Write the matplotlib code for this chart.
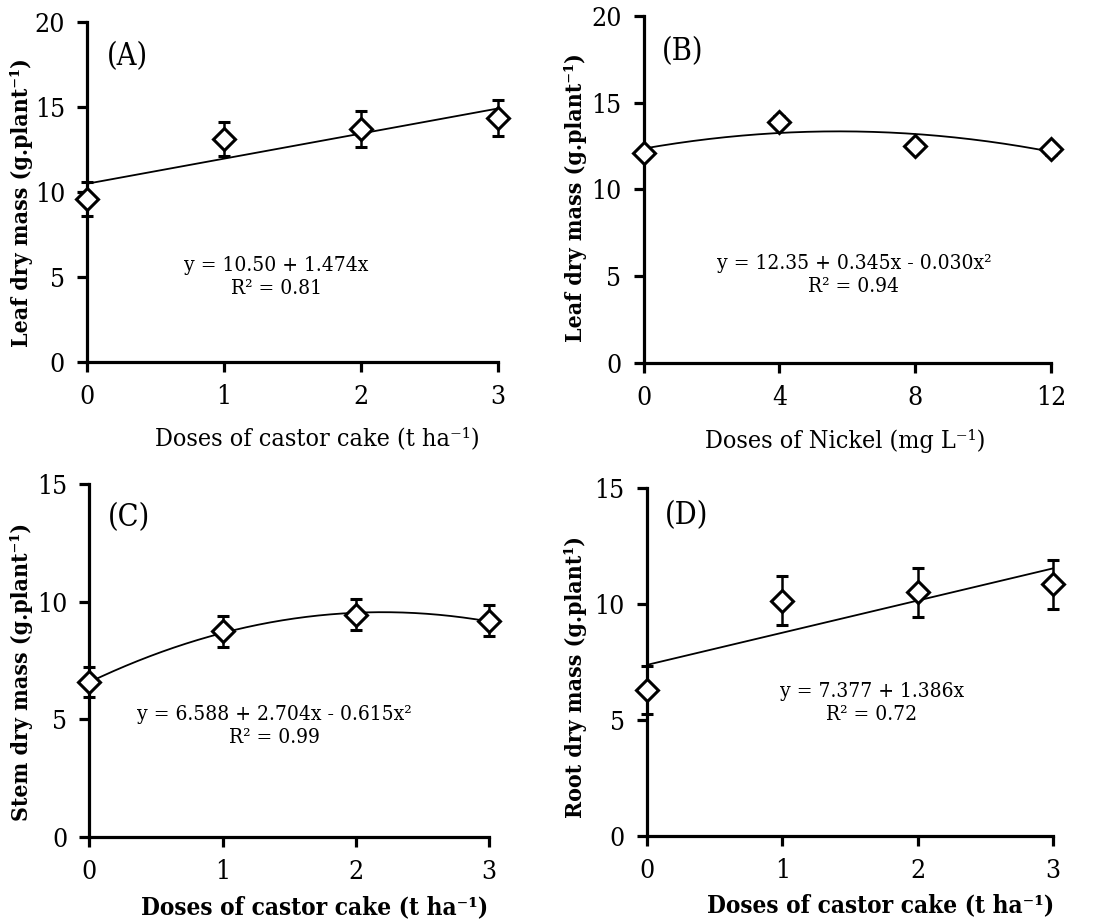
import numpy as np
import matplotlib
matplotlib.use("Agg")
import matplotlib.pyplot as plt

plt.rcParams['font.family'] = ['DejaVu Serif']
plt.rcParams['font.stretch'] = 'condensed'

# castor cake doses (t ha-1) and nickel doses (mg L-1)
castor = [0, 1, 2, 3]
nickel = [0, 4, 8, 12]

# means and error bar half-widths
leaf_castor = [9.6, 13.15, 13.7, 14.35]
leaf_castor_err = [1.0, 1.0, 1.05, 1.05]
leaf_nickel = [12.1, 13.9, 12.5, 12.3]
leaf_nickel_err = [0.3, 0.3, 0.3, 0.3]
stem_castor = [6.6, 8.75, 9.45, 9.2]
stem_castor_err = [0.65, 0.65, 0.65, 0.65]
root_castor = [6.3, 10.15, 10.5, 10.85]
root_castor_err = [1.05, 1.05, 1.05, 1.05]

# regression coefficients (c0, c1, c2)
fit_a = [10.50, 1.474, 0.0]
fit_b = [12.35, 0.345, -0.030]
fit_c = [6.588, 2.704, -0.615]
fit_d = [7.377, 1.386, 0.0]

panels = [
    dict(pos=[0.079, 0.608, 0.372, 0.368], x=castor, y=leaf_castor, e=leaf_castor_err,
         fit=fit_a, ylim=20, yticks=[0, 5, 10, 15, 20], tag='(A)', tagxy=(0.097, 0.90),
         ylabel='Leaf dry mass (g.plant⁻¹)', ylab_xy=(-0.133, 0.47),
         xlabel='Doses of castor cake (t ha⁻¹)', xbold=False, xlab_xy=(0.56, -0.19),
         eq=['y = 10.50 + 1.474x', 'R² = 0.81'], eqxy=(1.38, 5.0)),
    dict(pos=[0.583, 0.607, 0.369, 0.376], x=nickel, y=leaf_nickel, e=leaf_nickel_err,
         fit=fit_b, ylim=20, yticks=[0, 5, 10, 15, 20], tag='(B)', tagxy=(0.096, 0.896),
         ylabel='Leaf dry mass (g.plant⁻¹)', ylab_xy=(-0.14, 0.478),
         xlabel='Doses of Nickel (mg L⁻¹)', xbold=False, xlab_xy=(0.495, -0.19),
         eq=['y = 12.35 + 0.345x - 0.030x²', 'R² = 0.94'], eqxy=(6.19, 5.07)),
    dict(pos=[0.081, 0.094, 0.362, 0.382], x=castor, y=stem_castor, e=stem_castor_err,
         fit=fit_c, ylim=15, yticks=[0, 5, 10, 15], tag='(C)', tagxy=(0.10, 0.906),
         ylabel='Stem dry mass (g.plant⁻¹)', ylab_xy=(-0.142, 0.467),
         xlabel='Doses of castor cake (t ha⁻¹)', xbold=True, xlab_xy=(0.5625, -0.165),
         eq=['y = 6.588 + 2.704x - 0.615x²', 'R² = 0.99'], eqxy=(1.39, 4.72)),
    dict(pos=[0.586, 0.095, 0.368, 0.377], x=castor, y=root_castor, e=root_castor_err,
         fit=fit_d, ylim=15, yticks=[0, 5, 10, 15], tag='(D)', tagxy=(0.098, 0.92),
         ylabel='Root dry mass (g.plant¹)', ylab_xy=(-0.148, 0.457),
         xlabel='Doses of castor cake (t ha⁻¹)', xbold=True, xlab_xy=(0.574, -0.165),
         eq=['y = 7.377 + 1.386x', 'R² = 0.72'], eqxy=(1.66, 5.73)),
]

fig = plt.figure(figsize=(11.04, 9.24), dpi=100)

for p in panels:
    ax = fig.add_axes(p['pos'])
    xs = np.array(p['x'], dtype=float)
    xx = np.linspace(xs.min(), xs.max(), 200)
    c0, c1, c2 = p['fit']
    ax.plot(xx, c0 + c1 * xx + c2 * xx ** 2, color='black', lw=1.3, zorder=2)
    ax.errorbar(xs, p['y'], yerr=p['e'], fmt='D', ms=11, mfc='white', mec='black',
                mew=2.2, ecolor='black', elinewidth=1.8, capsize=4.5, capthick=1.8, zorder=3,
                clip_on=False)
    ax.set_xlim(xs.min(), xs.max())
    ax.set_ylim(0, p['ylim'])
    ax.set_xticks(xs)
    ax.set_yticks(p['yticks'])
    for s in ['top', 'right']:
        ax.spines[s].set_visible(False)
    for s in ['left', 'bottom']:
        ax.spines[s].set_linewidth(2.3)
    ax.tick_params(direction='out', length=7, width=2.3, labelsize=19, pad=9)
    ax.set_ylabel(p['ylabel'], fontsize=16.5, fontweight='bold')
    ax.yaxis.set_label_coords(*p['ylab_xy'])
    if p['xbold']:
        ax.set_xlabel(p['xlabel'], fontsize=17.5, fontweight='bold')
    else:
        ax.set_xlabel(p['xlabel'], fontsize=18)
    ax.xaxis.set_label_coords(*p['xlab_xy'])
    ax.text(p['tagxy'][0], p['tagxy'][1], p['tag'], transform=ax.transAxes,
            fontsize=22, ha='center', va='center')
    ex, ey = p['eqxy']
    ax.text(ex, ey, p['eq'][0] + '\n' + p['eq'][1], ha='center', va='center',
            fontsize=15, linespacing=1.3)

fig.savefig('out.png', dpi=100)
